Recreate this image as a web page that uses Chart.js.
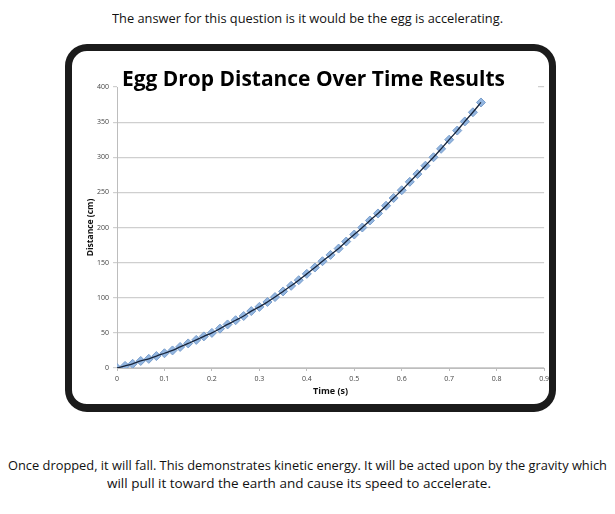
<!DOCTYPE html>
<html>
<head>
<meta charset="utf-8">
<script src="https://cdn.jsdelivr.net/npm/chart.js@4.4.1/dist/chart.umd.min.js"></script>
<style>
  body { margin: 0; width: 615px; height: 514px; background: #fff; position: relative; overflow: hidden; font-family: "Open Sans", sans-serif; color: #111; }
  .txt { position: absolute; white-space: nowrap; transform-origin: left center; }
  #frame { position: absolute; left: 65px; top: 44px; width: 477px; height: 353px; border: 7px solid #1b1b1b; border-bottom-width: 8px; border-radius: 22px; pointer-events: none; z-index: 3; }
  #box { position: absolute; left: 72px; top: 51px; width: 481px; height: 353px; }
  #title { position: absolute; left: 118px; top: 65px; height: 30px; width: 420px; background: #fff; z-index: 2; }
</style>
</head>
<body>
<div class="txt" id="top" data-w="391" data-x="112" style="top:9px;font-size:13px;">The answer for this question is it would be the egg is accelerating.</div>
<div id="box"><canvas id="chart"></canvas></div>
<div id="title"></div>
<div class="txt" id="ttl" data-w="383" data-x="122" style="top:62px;font-size:22px;font-weight:700;z-index:2;color:#000;">Egg Drop Distance Over Time Results</div>
<div id="frame"></div>
<div class="txt" data-w="599" data-x="8" style="top:456px;font-size:13px;">Once dropped, it will fall. This demonstrates kinetic energy. It will be acted upon by the gravity which</div>
<div class="txt" data-w="384" data-x="107" style="top:474px;font-size:13px;">will pull it toward the earth and cause its speed to accelerate.</div>
<script>
// time in seconds (one video frame apart), distance in cm
const times = [0, 0.017, 0.033, 0.05, 0.067, 0.083, 0.1, 0.117, 0.133, 0.15,
  0.167, 0.183, 0.2, 0.217, 0.233, 0.25, 0.267, 0.283, 0.3, 0.317,
  0.333, 0.35, 0.367, 0.383, 0.4, 0.417, 0.433, 0.45, 0.467, 0.483,
  0.5, 0.517, 0.533, 0.55, 0.567, 0.583, 0.6, 0.617, 0.633, 0.65,
  0.667, 0.683, 0.7, 0.717, 0.733, 0.75, 0.767];
const distances = [0, 3, 6, 10, 13, 17, 21, 25, 30, 35,
  40, 45, 50, 56, 62, 68, 74, 81, 87, 94,
  101, 109, 117, 125, 134, 143, 152, 161, 170, 180,
  190, 200, 210, 220, 231, 242, 253, 265, 276, 288,
  300, 312, 325, 338, 351, 364, 378];
const xTicks = [0, 0.1, 0.2, 0.3, 0.4, 0.5, 0.6, 0.7, 0.8, 0.9];
const yTicks = [0, 50, 100, 150, 200, 250, 300, 350, 400];

// squeeze the text blocks to the widths they have in the picture
document.querySelectorAll('.txt').forEach(el => {
  const w = el.getBoundingClientRect().width;
  el.style.left = el.dataset.x + 'px';
  el.style.transform = 'scaleX(' + (el.dataset.w / w) + ')';
});

const pts = times.map((t, i) => ({ x: t, y: distances[i] }));
const tickFont = { family: 'Open Sans', size: 7 };

new Chart(document.getElementById('chart'), {
  type: 'scatter',
  data: {
    datasets: [
      {
        label: 'Trend',
        data: pts,
        showLine: true,
        borderColor: '#17243a',
        borderWidth: 1.3,
        pointRadius: 0,
        cubicInterpolationMode: 'monotone',
        fill: false
      },
      {
        label: 'Distance',
        data: pts,
        pointStyle: 'rectRot',
        pointRadius: 4.5,
        backgroundColor: '#93b6e0',
        borderColor: '#789dcb',
        borderWidth: 1
      }
    ]
  },
  options: {
    responsive: true,
    maintainAspectRatio: false,
    animation: false,
    layout: { padding: { top: 36, right: 0, left: 0, bottom: 0 } },
    plugins: { legend: { display: false }, tooltip: { enabled: false } },
    scales: {
      x: {
        type: 'linear',
        min: 0, max: 0.9,
        afterBuildTicks: s => { s.ticks = xTicks.map(v => ({ value: v })); },
        afterFit: s => { s.height = 36; },
        ticks: { font: tickFont, color: '#444', padding: 4, maxRotation: 0, autoSkip: false },
        grid: { drawOnChartArea: false, tickLength: 3, color: '#bdbdbd' },
        border: { color: '#bdbdbd' },
        title: { display: true, text: 'Time (s)', font: { family: 'Open Sans', size: 9, weight: 'bold' }, color: '#111', padding: { top: 0, bottom: 7 } }
      },
      y: {
        min: 0, max: 400,
        afterBuildTicks: s => { s.ticks = yTicks.map(v => ({ value: v })); },
        afterFit: s => { s.width = 45; s.paddingTop = 0; s.paddingBottom = 0; },
        ticks: { font: tickFont, color: '#444', padding: 4 },
        grid: { color: '#cfcfcf', tickLength: 4, lineWidth: 1.2 },
        border: { color: '#bdbdbd' },
        title: { display: true, text: 'Distance (cm)', font: { family: 'Open Sans', size: 8.5, weight: 'bold' }, color: '#111', padding: { top: 13, bottom: 0 } }
      }
    }
  }
});
</script>
</body>
</html>
